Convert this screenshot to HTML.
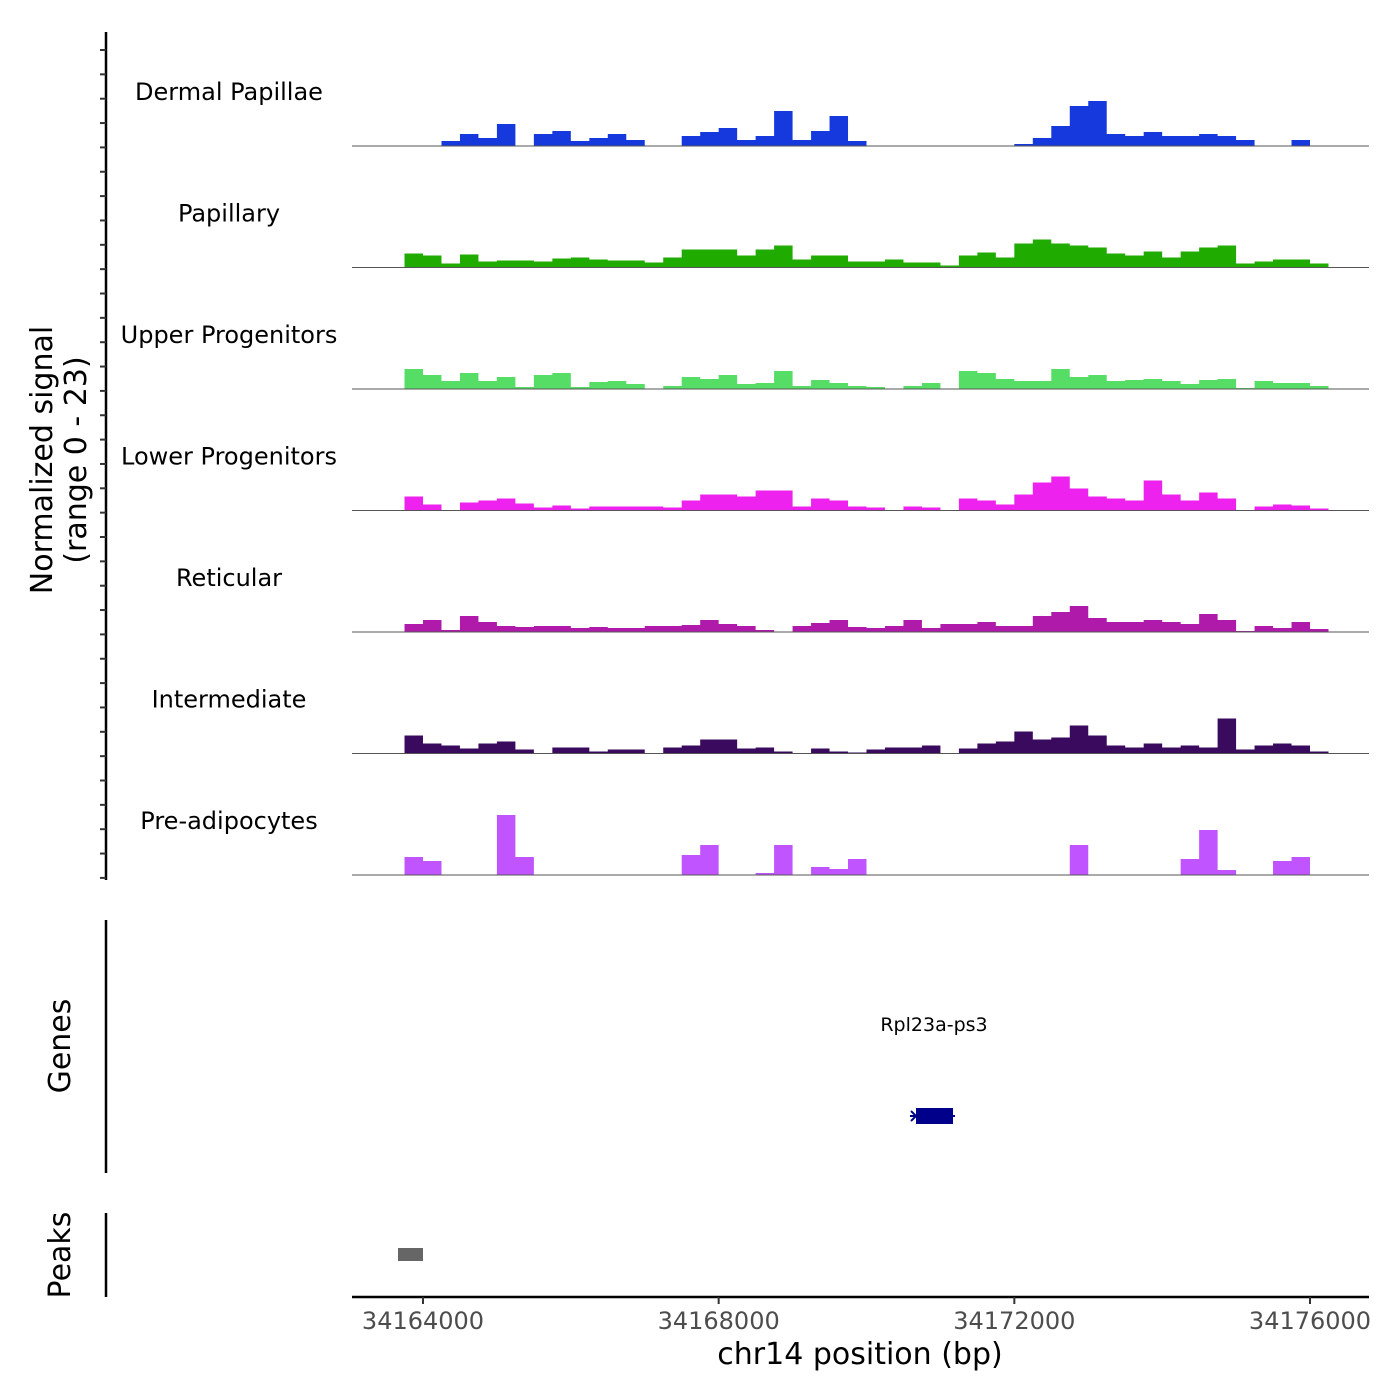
<!DOCTYPE html>
<html><head><meta charset="utf-8"><style>
html,body{margin:0;padding:0;background:#fff;}
svg{display:block;font-family:"DejaVu Sans","Liberation Sans",sans-serif;}
</style></head><body>
<svg id="chart" width="1400" height="1400" viewBox="0 0 1400 1400" xmlns="http://www.w3.org/2000/svg">
<g id="tracks"></g>
<g id="yaxis"><line x1="106" y1="32" x2="106" y2="880" stroke="#000" stroke-width="2.5"/></g>
<text transform="translate(52,460) rotate(-90)" text-anchor="middle" font-size="30">Normalized signal</text>
<text transform="translate(86,460) rotate(-90)" text-anchor="middle" font-size="30">(range 0 - 23)</text>
<g>
<line x1="106" y1="920" x2="106" y2="1173" stroke="#000" stroke-width="2.5"/>
<text transform="translate(70,1046) rotate(-90)" text-anchor="middle" font-size="30">Genes</text>
<text x="934" y="1031" text-anchor="middle" font-size="19">Rpl23a-ps3</text>
<line x1="910" y1="1116" x2="955" y2="1116" stroke="#00008B" stroke-width="2"/>
<path d="M911,1111 L916,1116 L911,1121" fill="none" stroke="#00008B" stroke-width="2"/>
<rect x="916" y="1108" width="37" height="16" fill="#00008B"/>
</g>
<g>
<line x1="106" y1="1213" x2="106" y2="1297" stroke="#000" stroke-width="2.5"/>
<text transform="translate(70,1255) rotate(-90)" text-anchor="middle" font-size="30">Peaks</text>
<rect x="398" y="1248" width="25" height="13" fill="#666"/>
</g>
<g id="xaxis"><line x1="352" y1="1297" x2="1369" y2="1297" stroke="#000" stroke-width="2.5"/></g>
<text x="860" y="1364" text-anchor="middle" font-size="30">chr14 position (bp)</text>
</svg>
<script>
const binStart = 34163750;
const binSize = 250;
const trackNames = ["Dermal Papillae","Papillary","Upper Progenitors","Lower Progenitors","Reticular","Intermediate","Pre-adipocytes"];
const trackColors = ["#1639dd","#1fab00","#55dd66","#ee22ee","#b01aaa","#3a0a5f","#c055ff"];
const dermalPapillae = [0,0,1,2.4,1.6,4.4,0,2.4,3,1,1.6,2.4,1.2,0,0,2,2.8,3.6,1.2,2,7,1.2,3,6,1,0,0,0,0,0,0,0,0,0.4,1.6,4,8,9,2.4,2,2.8,2,2,2.4,2,1.2,0,0,1.2,0];
const papillary = [2.8,2.4,0.8,2.6,1.2,1.4,1.4,1.2,1.8,2,1.6,1.4,1.4,1,2,3.6,3.6,3.6,2.4,3.6,4.4,1.6,2.4,2.4,1.2,1.2,1.6,1,1,0.4,2.4,3,2,4.8,5.6,4.8,4.4,4,2.8,2.4,3.2,2,3.2,4,4.4,0.8,1.2,1.6,1.6,0.8];
const upperProgenitors = [4,2.8,1.6,3.2,1.6,2.4,0.4,2.8,3.2,0.4,1.4,1.6,1,0,0.6,2.4,2,2.8,1,1.2,3.6,0.6,1.8,1.2,0.6,0.4,0,0.6,1.2,0,3.6,3.2,2,1.6,1.6,4,2.4,2.8,1.6,1.8,2,1.6,1,1.8,2,0.2,1.6,1.2,1.2,0.6];
const lowerProgenitors = [2.8,1.2,0,1.6,2,2.4,1.4,0.6,1,0.4,0.8,0.8,0.8,0.8,0.6,2,3.2,3.2,2.8,4,4,0.8,2.4,2,0.8,0.6,0,0.8,0.6,0,2.4,2,1.2,3.2,5.6,6.8,4.4,2.8,2.4,2,6,3.2,2,3.6,2.4,0,0.8,1.2,1,0.4];
const reticular = [1.6,2.4,0.4,3.2,2,1.2,1,1.2,1.2,0.8,1,0.8,0.8,1.2,1.2,1.4,2.4,1.6,1.2,0.4,0,1.2,1.8,2.4,1,0.8,1.2,2.4,0.8,1.6,1.6,2,1.2,1.2,3.2,4,5.2,2.8,2,2,2.4,2,1.6,3.6,2.4,0.2,1.2,0.8,2,0.6];
const intermediate = [3.6,2,1.6,1,2,2.4,0.8,0,1.2,1.2,0.4,0.8,0.8,0,1.2,1.6,2.8,2.8,1,1.2,0.4,0,1,0.4,0.2,0.8,1.2,1.2,1.6,0,1,2,2.4,4.4,2.8,3.2,5.6,3.6,1.6,1.2,2,1.2,1.6,1.2,7,0.8,1.6,2,1.6,0.4];
const preAdipocytes = [3.6,2.8,0,0,0,12,3.6,0,0,0,0,0,0,0,0,4,6,0,0,0.4,6,0,1.6,1.2,3.2,0,0,0,0,0,0,0,0,0,0,0,6,0,0,0,0,0,3.2,9,1,0,0,2.8,3.6,0];
const trackValues = [dermalPapillae,papillary,upperProgenitors,lowerProgenitors,reticular,intermediate,preAdipocytes];
const xTicks = [34164000,34168000,34172000,34176000];
const xTickLabels = ["34164000","34168000","34172000","34176000"];

const NS="http://www.w3.org/2000/svg";
function xScale(bp){return 423+(bp-34164000)*(887/12000);}
function yScale(v,base){return base-v*5;}
const tracks=document.getElementById('tracks');
trackNames.forEach((name,t)=>{
  const base=146+t*121.5;
  const g=document.createElementNS(NS,'g');
  
  
  const lab=document.createElementNS(NS,'text');
  
  
  lab.setAttribute('x',229);lab.setAttribute('y',base-46);
  lab.setAttribute('text-anchor','middle');lab.setAttribute('font-size','24');
  lab.textContent=name;g.appendChild(lab);
  let d='M'+xScale(binStart)+','+base;
  trackValues[t].forEach((v,i)=>{
    const x0=xScale(binStart+i*binSize),x1=xScale(binStart+(i+1)*binSize),y=yScale(v,base);
    d+=' L'+x0+','+y+' L'+x1+','+y;
  });
  d+=' L'+xScale(binStart+trackValues[t].length*binSize)+','+base+' Z';
  const p=document.createElementNS(NS,'path');
  
  
  p.setAttribute('d',d);p.setAttribute('fill',trackColors[t]);
  g.appendChild(p);
  const bl=document.createElementNS(NS,'line');
  
  
  bl.setAttribute('x1',352);bl.setAttribute('x2',1369);bl.setAttribute('y1',base);bl.setAttribute('y2',base);
  bl.setAttribute('stroke','#555');bl.setAttribute('stroke-width','1');
  g.appendChild(bl);
  tracks.appendChild(g);
});
const ya=document.getElementById('yaxis');
for(let y=50;y<=880;y+=24.35){
  const l=document.createElementNS(NS,'line');
  
  
  l.setAttribute('x1',100);l.setAttribute('x2',106);l.setAttribute('y1',y);l.setAttribute('y2',y);
  l.setAttribute('stroke','#333');l.setAttribute('stroke-width','2');
  ya.appendChild(l);
}
const xa=document.getElementById('xaxis');
xTicks.forEach((v,i)=>{
  const x=xScale(v);
  const l=document.createElementNS(NS,'line');
  
  
  l.setAttribute('x1',x);l.setAttribute('x2',x);l.setAttribute('y1',1297);l.setAttribute('y2',1304);
  l.setAttribute('stroke','#333');l.setAttribute('stroke-width','2');
  xa.appendChild(l);
  const t=document.createElementNS(NS,'text');
  
  
  t.setAttribute('x',x);t.setAttribute('y',1329);t.setAttribute('text-anchor','middle');
  t.setAttribute('font-size','24');t.setAttribute('fill','#4d4d4d');
  t.textContent=xTickLabels[i];
  xa.appendChild(t);
});
</script>
</body></html>
